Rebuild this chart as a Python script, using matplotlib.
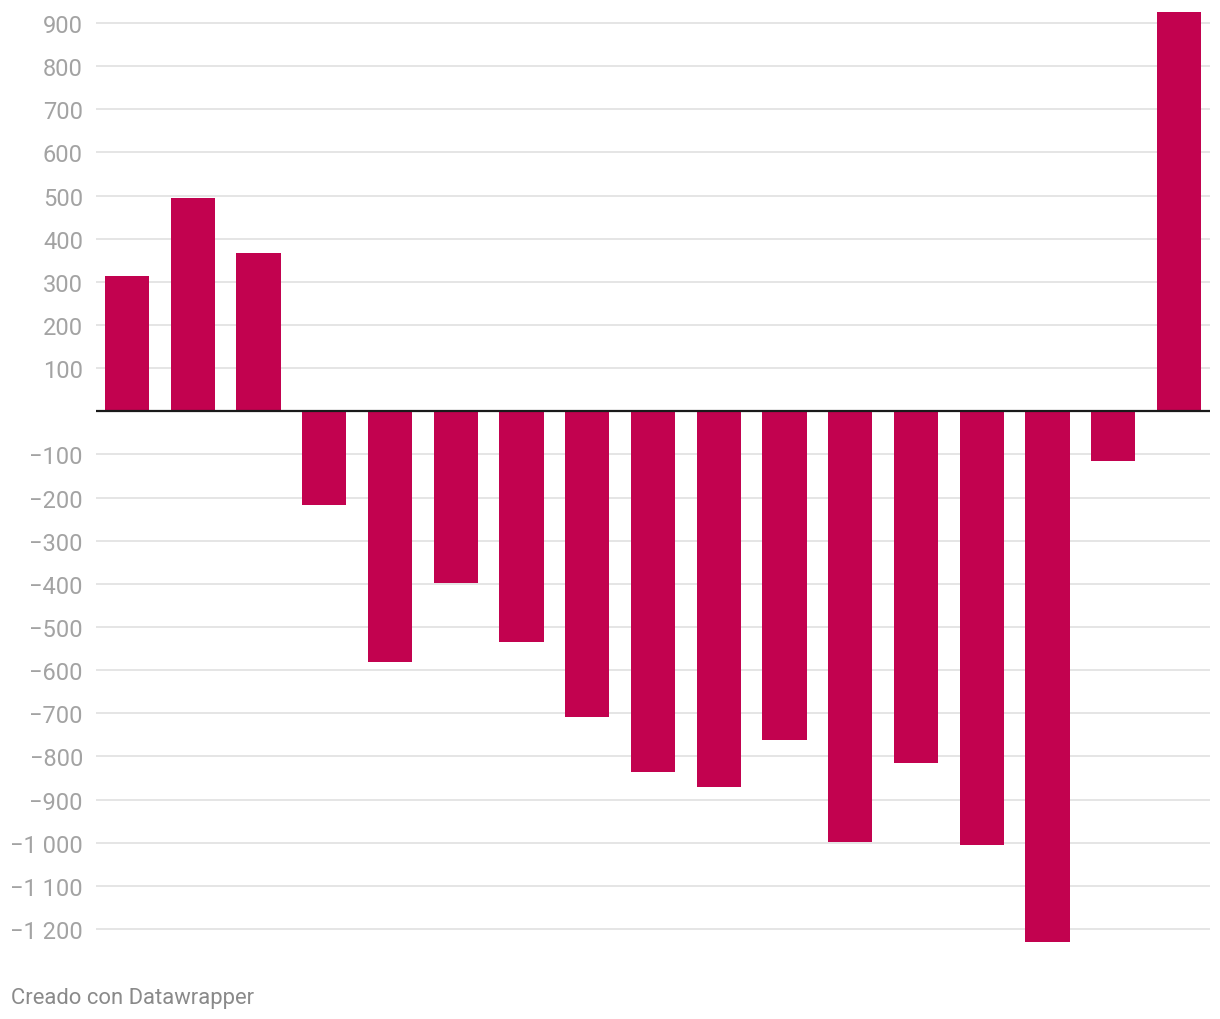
import matplotlib
matplotlib.use("Agg")
import matplotlib.pyplot as plt
from matplotlib.ticker import FuncFormatter

plt.rcParams['font.family'] = ['Roboto', 'DejaVu Sans']

# values, one bar per period
values = [313, 494, 367, -216, -582, -399, -534, -708, -835, -870,
          -761, -999, -814, -1005, -1230, -116, 926]
yticks = list(range(-1200, 1000, 100))
bar_color = "#c2024f"


def fmt(v, pos):
    if v == 0:
        return ""
    s = "{:,}".format(int(abs(v))).replace(",", " ")
    return ("\u2212" if v < 0 else "") + s


fig = plt.figure(figsize=(12.2, 10.2), dpi=100)
ax = fig.add_axes([96 / 1220, 0.0734, 1114 / 1220, 0.9263])

x = list(range(len(values)))
ax.bar(x, values, width=0.67, color=bar_color, zorder=3)
ax.axhline(0, color="#1a1a1a", lw=1.6, zorder=4)

ax.set_xlim(-0.471, len(values) - 1 + 0.471)
ax.set_ylim(-1235, 955)
ax.set_yticks(yticks)
ax.yaxis.set_major_formatter(FuncFormatter(fmt))
ax.grid(axis="y", color="#e3e3e3", lw=1.3, zorder=0)
ax.tick_params(axis="y", length=0, pad=9.4, labelsize=17, labelcolor="#a3a3a3")
ax.set_xticks([])
for s in ax.spines.values():
    s.set_visible(False)

fig.text(11 / 1220, 1 - 999 / 1020, "Creado con Datawrapper", fontsize=15.8,
         color="#8a8a8a", va="center", ha="left")

fig.savefig("out.png", dpi=100)
plt.close()
